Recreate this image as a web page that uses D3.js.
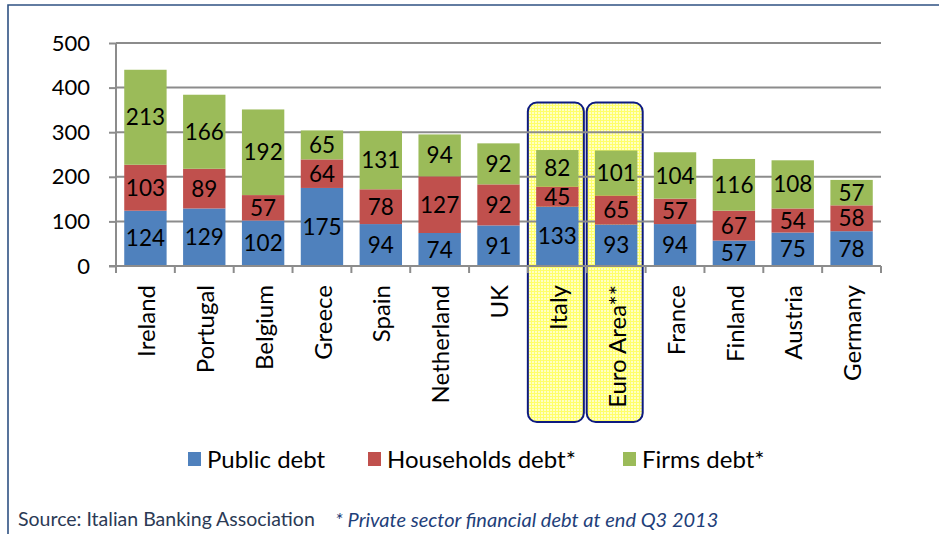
<!DOCTYPE html>
<html>
<head>
<meta charset="utf-8">
<script src="https://cdn.jsdelivr.net/npm/d3@7"></script>
<style>
  html, body { margin: 0; padding: 0; background: #ffffff; }
  svg { display: block; font-family: Lato, "Open Sans", sans-serif; }
</style>
</head>
<body>
<svg id="chart" width="939" height="534"></svg>
<script>
// Debt composition by country (% of GDP)
const countries = ["Ireland", "Portugal", "Belgium", "Greece", "Spain", "Netherland", "UK",
                   "Italy", "Euro Area**", "France", "Finland", "Austria", "Germany"];
const publicDebt     = [124, 129, 102, 175, 94, 74, 91, 133, 93, 94, 57, 75, 78];
const householdsDebt = [103, 89, 57, 64, 78, 127, 92, 45, 65, 57, 67, 54, 58];
const firmsDebt      = [213, 166, 192, 65, 131, 94, 92, 82, 101, 104, 116, 108, 57];
const seriesNames  = ["Public debt", "Households debt*", "Firms debt*"];
const yTicks = [0, 100, 200, 300, 400, 500];
const highlighted = ["Italy", "Euro Area**"];

const colors = ["#4f81bd", "#c0504d", "#9bbb59"];

const svg = d3.select("#chart");

// frame
svg.append("path")
  .attr("d", "M8,534 V5 H939")
  .attr("fill", "none")
  .attr("stroke", "#2f5283")
  .attr("stroke-width", 1.6);

const plotLeft = 116, plotRight = 881, plotTop = 43, plotBottom = 266;

const x = d3.scaleBand().domain(countries).range([plotLeft, plotRight])
  .paddingInner(0.28).paddingOuter(0.14);
const y = d3.scaleLinear().domain([0, 500]).range([plotBottom, plotTop]);

// highlight pattern: pale yellow with a fine grid
const defs = svg.append("defs");
const pat = defs.append("pattern")
  .attr("id", "hatch").attr("patternUnits", "userSpaceOnUse")
  .attr("width", 3).attr("height", 3);
pat.append("rect").attr("width", 3).attr("height", 3).attr("fill", "#ffffc4");
pat.append("path").attr("d", "M0,0.5 H3 M0.5,0 V3")
  .attr("stroke", "#ffff6a").attr("stroke-width", 1);

// highlight boxes behind the bars
svg.append("g").selectAll("rect")
  .data(highlighted)
  .join("rect")
  .attr("x", d => x(d) + x.bandwidth() / 2 - 29.5)
  .attr("y", 102.5)
  .attr("width", 56)
  .attr("height", 319.5)
  .attr("rx", 9).attr("ry", 9)
  .attr("fill", "url(#hatch)")
  .attr("stroke", "#0d1a80")
  .attr("stroke-width", 2);

// gridlines
svg.append("g").selectAll("line")
  .data(yTicks.filter(t => t > 0))
  .join("line")
  .attr("x1", plotLeft).attr("x2", plotRight)
  .attr("y1", d => y(d)).attr("y2", d => y(d))
  .attr("stroke", "#8c8c8c").attr("stroke-width", 2);

// y axis
const yAxis = svg.append("g")
  .attr("transform", `translate(${plotLeft},0)`)
  .call(d3.axisLeft(y).tickValues(yTicks).tickSize(7).tickPadding(19).tickFormat(d3.format("d")));
yAxis.select(".domain").attr("stroke", "#8c8c8c").attr("stroke-width", 2)
  .attr("d", `M0,${plotTop}V${plotBottom + 7}`);
yAxis.selectAll(".tick line").attr("stroke", "#8c8c8c").attr("stroke-width", 2);
yAxis.selectAll(".tick text").attr("fill", "#000").attr("font-size", 22)
  .attr("font-family", "Lato, sans-serif");

// stacked bars
const rows = countries.map((c, i) => ({
  country: c, "Public debt": publicDebt[i],
  "Households debt*": householdsDebt[i], "Firms debt*": firmsDebt[i]
}));
const stacked = d3.stack().keys(seriesNames)(rows);

const layers = svg.append("g").selectAll("g")
  .data(stacked)
  .join("g")
  .attr("fill", (d, i) => colors[i]);

layers.selectAll("rect")
  .data(d => d)
  .join("rect")
  .attr("x", d => x(d.data.country))
  .attr("y", d => y(d[1]))
  .attr("width", x.bandwidth())
  .attr("height", d => y(d[0]) - y(d[1]));

layers.selectAll("text")
  .data(d => d.map(v => ({ v, key: d.key })))
  .join("text")
  .attr("x", d => x(d.v.data.country) + x.bandwidth() / 2)
  .attr("y", d => (y(d.v[0]) + y(d.v[1])) / 2)
  .attr("dy", "0.36em")
  .attr("text-anchor", "middle")
  .attr("fill", "#000")
  .attr("font-size", 22.5)
  .text(d => d.v.data[d.key]);

// x axis line and ticks at category boundaries
const xg = svg.append("g");
xg.append("line")
  .attr("x1", plotLeft - 7).attr("x2", plotRight)
  .attr("y1", plotBottom).attr("y2", plotBottom)
  .attr("stroke", "#8c8c8c").attr("stroke-width", 2);
const boundaries = countries.map(c => x(c) - x.step() * x.paddingInner() / 2);
boundaries.push(plotRight);
xg.selectAll("line.tk")
  .data(boundaries)
  .join("line")
  .attr("class", "tk")
  .attr("x1", d => d).attr("x2", d => d)
  .attr("y1", plotBottom).attr("y2", plotBottom + 7)
  .attr("stroke", "#8c8c8c").attr("stroke-width", 2);

// category labels, rotated
xg.selectAll("text")
  .data(countries)
  .join("text")
  .attr("transform", d => `translate(${x(d) + x.bandwidth() / 2 + 1},285) rotate(-90)`)
  .attr("dy", "0.36em")
  .attr("text-anchor", "end")
  .attr("font-size", 24)
  .attr("fill", "#000")
  .text(d => d);

// legend
const legendX = [188, 368, 623];
const lg = svg.append("g").selectAll("g")
  .data(seriesNames)
  .join("g")
  .attr("transform", (d, i) => `translate(${legendX[i]},452)`);
lg.append("rect").attr("width", 13).attr("height", 14)
  .attr("fill", (d, i) => colors[i]);
lg.append("text")
  .attr("x", 19).attr("y", 7).attr("dy", "0.36em")
  .attr("font-size", 24).attr("fill", "#000")
  .text(d => d);

// footer notes
svg.append("text")
  .attr("x", 18).attr("y", 526)
  .attr("font-size", 19.5).attr("fill", "#2b3a55")
  .text("Source: Italian Banking Association");
svg.append("text")
  .attr("x", 335).attr("y", 527)
  .attr("font-size", 20).attr("font-style", "italic").attr("fill", "#1f3f7a")
  .text("* Private sector financial debt at end Q3 2013");
</script>
</body>
</html>
